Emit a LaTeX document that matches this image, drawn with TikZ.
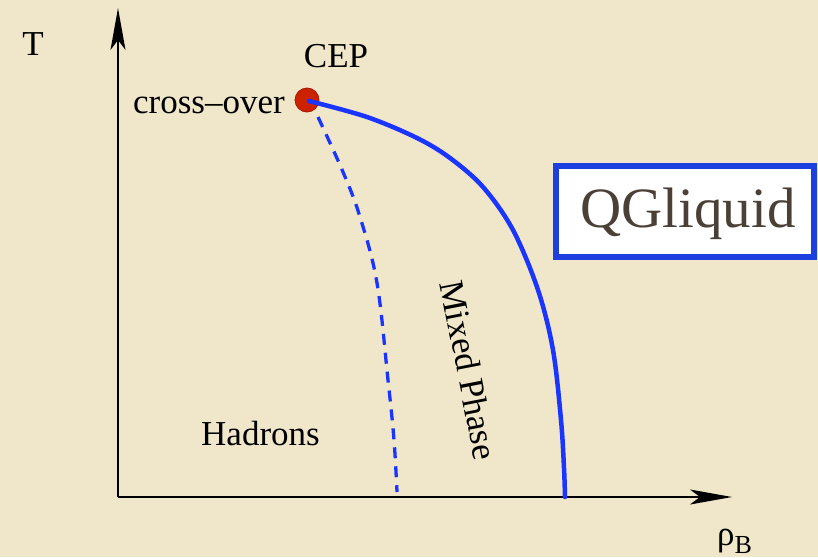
\documentclass[tikz,border=0pt]{standalone}
\usepackage{fontspec}
\setmainfont{Liberation Serif}
\usetikzlibrary{arrows.meta}
\definecolor{parch}{HTML}{F0E6CA}
\definecolor{lineblue}{HTML}{1A35FF}
\definecolor{boxblue}{HTML}{1E3FE0}
\definecolor{cepred}{HTML}{CC2200}
\definecolor{qgtext}{HTML}{4A4036}
\begin{document}
\begin{tikzpicture}[x=1pt,y=-1pt,
  lbl/.style={inner sep=0pt,font=\fontsize{35}{40}\selectfont,text=black},
  axis/.style={line width=2pt,-{Stealth[length=42pt,width=15pt,inset=10pt]}},
  phase/.style={lineblue,line width=4.5pt},
  crossline/.style={lineblue,line width=3.3pt,dash pattern=on 11pt off 8pt}]
\useasboundingbox (0,0) rectangle (818,557);
\fill[parch] (0,0) rectangle (818,557);
% axes
\coordinate (O) at (118,497);
\coordinate (ytop) at (118,8);
\coordinate (xend) at (732,497);
\draw[axis] (O) -- (ytop);
\draw[axis] (O) -- (xend);
% CEP point
\node[circle,fill=cepred,draw=cepred!80!black,line width=0.8pt,minimum size=24pt,inner sep=0pt] (cepdot) at (307,100) {};
% phase boundary
\draw[phase,line cap=round] plot[smooth,tension=0.55] coordinates {(309,101) (367,117) (417,138) (450,158) (483,187) (513,230) (538,290) (553,350) (561,420) (564,468) (565,497)};
% cross-over line
\draw[crossline] plot[smooth,tension=0.6] coordinates {(318,117) (343,172) (360,217) (377,283) (388,380) (394,440) (397,492)};
% labels
\node[lbl] (T) at (33,44) {T};
\node[lbl,anchor=base] (cep) at (336,67) {CEP};
\node[lbl,anchor=base east] (co) at (285,113) {cross–over};
\node[lbl,anchor=base west] (had) at (201,445) {Hadrons};
\node[lbl,rotate=-79] (mix) at (469,370) {Mixed Phase};
\node[inner sep=0pt,anchor=base west] (rho) at (717,545) {{\fontsize{35}{40}\selectfont ρ}{\fontsize{26}{30}\selectfont\raisebox{-8pt}{B}}};
% QGliquid box
\node[draw=boxblue,line width=6pt,fill=white,minimum width=258pt,minimum height=91pt,inner sep=0pt] (qgbox) at (685,211.5) {};
\node[inner sep=0pt,anchor=base,text=qgtext,font=\fontsize{57}{64}\selectfont] (qg) at (688,227) {QGliquid};
\end{tikzpicture}
\end{document}
